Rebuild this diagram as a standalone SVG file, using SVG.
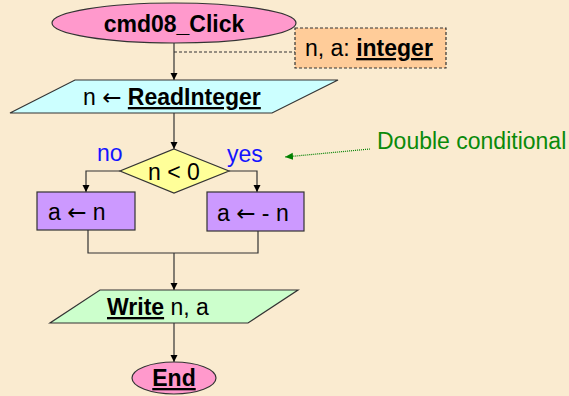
<svg xmlns="http://www.w3.org/2000/svg" width="569" height="396" viewBox="0 0 569 396">
<defs>
<marker id="ah" markerWidth="8" markerHeight="8" refX="7" refY="4" orient="auto" markerUnits="userSpaceOnUse">
<path d="M0,0.5 L7,4 L0,7.5 Z" fill="#000"/>
</marker>
<marker id="ahg" markerWidth="9" markerHeight="8" refX="8" refY="4" orient="auto" markerUnits="userSpaceOnUse">
<path d="M0,0.5 L8,4 L0,7.5 Z" fill="#008000"/>
</marker>
<style>
.t{font-family:"Liberation Sans",Arial,sans-serif;font-size:23px;fill:#000}
.b{font-weight:bold}
.u{text-decoration:underline}
.ar{font-family:"DejaVu Sans",sans-serif;font-weight:normal}
.sh{stroke:#333;stroke-width:1.2}
.ln{fill:none;stroke:#333;stroke-width:1.2}
</style>
</defs>
<rect x="0" y="0" width="569" height="396" fill="#FAEBD0"/>
<g id="connectors">
<path class="ln" d="M174,43 V80" marker-end="url(#ah)"/>
<path class="ln" d="M174,52 H295" stroke-dasharray="3,2"/>
<path class="ln" d="M174,113 V149" marker-end="url(#ah)"/>
<path class="ln" d="M120,171 H86 V192" marker-end="url(#ah)"/>
<path class="ln" d="M229,171 H257 V192" marker-end="url(#ah)"/>
<path class="ln" d="M88,230 V253 H258 V231"/>
<path class="ln" d="M174,253 V290" marker-end="url(#ah)"/>
<path class="ln" d="M174,323 V362" marker-end="url(#ah)"/>
<path d="M370,149 L285,157" fill="none" stroke="#008000" stroke-width="1.2" stroke-dasharray="1,1" marker-end="url(#ahg)"/>
</g>
<g id="start">
<ellipse cx="174" cy="23" rx="122" ry="20" fill="#FF99CC" class="sh"/>
<text class="t b" x="174" y="32" text-anchor="middle" font-size="24">cmd08_Click</text>
</g>
<g id="decl">
<rect x="295" y="28" width="151" height="40" fill="#FFCC99" stroke="#333" stroke-width="1.2" stroke-dasharray="3,2"/>
<text class="t" x="305" y="56">n, a: <tspan class="b u">integer</tspan></text>
</g>
<g id="read">
<polygon points="75,80 338,80 272,113 10,113" fill="#CCFFFF" class="sh"/>
<text class="t" x="83" y="105">n <tspan class="ar">←</tspan> <tspan class="b u">ReadInteger</tspan></text>
</g>
<g id="cond">
<polygon points="174,149 229,171 174,193 120,171" fill="#FFFF99" class="sh"/>
<text class="t" x="174" y="180" text-anchor="middle">n &lt; 0</text>
<text class="t" x="97" y="161" style="fill:#1414FF">no</text>
<text class="t" x="227" y="162" style="fill:#1414FF">yes</text>
</g>
<g id="assign-no">
<rect x="37" y="192" width="98" height="38" fill="#CC99FF" class="sh"/>
<text class="t" x="48" y="220">a <tspan class="ar">←</tspan> n</text>
</g>
<g id="assign-yes">
<rect x="207" y="192" width="97" height="39" fill="#CC99FF" class="sh"/>
<text class="t" x="217" y="221">a <tspan class="ar">←</tspan> - n</text>
</g>
<g id="write">
<polygon points="100,290 298,290 248,323 50,323" fill="#CCFFCC" class="sh"/>
<text class="t" x="107" y="315"><tspan class="b u">Write</tspan> n, a</text>
</g>
<g id="end">
<ellipse cx="174" cy="378" rx="42" ry="16" fill="#FF99CC" class="sh"/>
<text class="t b u" x="174" y="386" text-anchor="middle">End</text>
</g>
<g id="note">
<text class="t" x="377" y="149" style="fill:#0A8A0A" font-size="22">Double conditional</text>
</g>
</svg>
